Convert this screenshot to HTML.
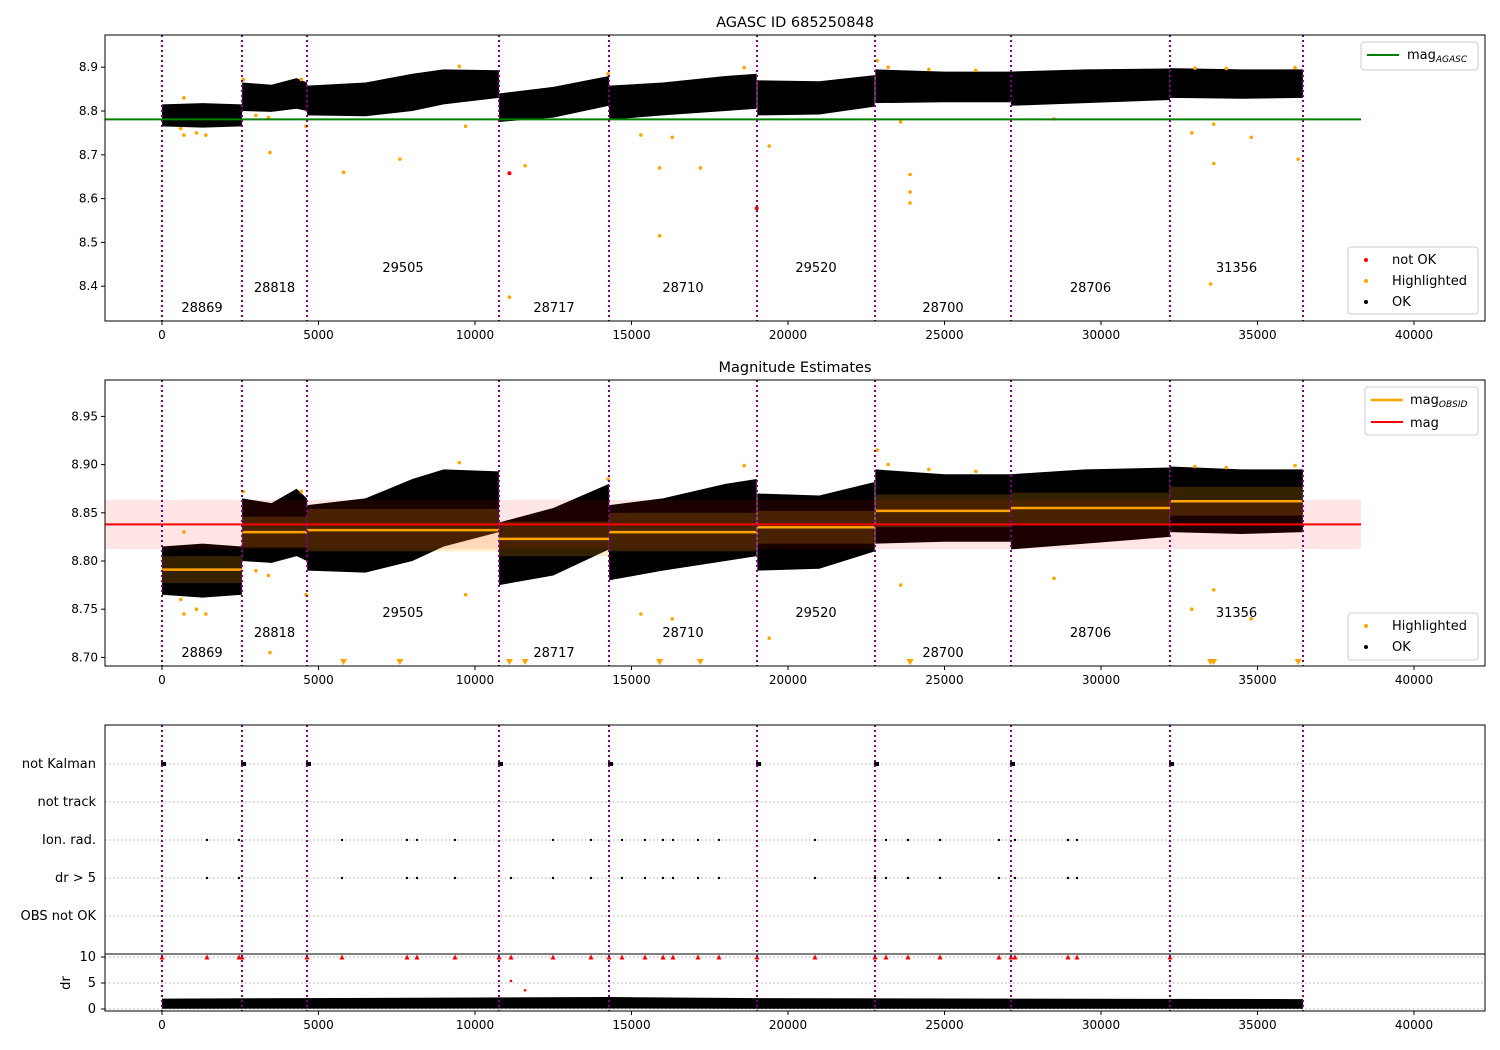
<!DOCTYPE html>
<html><head><meta charset="utf-8"><style>
html,body{margin:0;padding:0;background:#fff}
svg{display:block;font-family:"DejaVu Sans","Liberation Sans",sans-serif}
</style></head><body>
<svg id="c" width="1500" height="1050" viewBox="0 0 1500 1050" xmlns="http://www.w3.org/2000/svg"></svg>
<script>
// ---- data ----
const obsids = ["28869","28818","29505","28717","28710","29520","28700","28706","31356"];
const obsStart = [0,2556,4633,10767,14281,19010,22780,27125,32204,36454];
const obsMean = [8.791,8.830,8.832,8.823,8.830,8.835,8.852,8.855,8.862];
const obsStd = [0.014,0.016,0.022,0.018,0.020,0.017,0.017,0.016,0.015];
const magAgasc = 8.781;
const magAll = 8.838;
const magStd = 0.0255;
const knotT  = [0,1300,2550, 2560,3500,4300,4630, 4640,6500,8000,9000,10760, 10770,12500,14280, 14290,16000,18000,19000, 19020,21000,22770, 22790,25000,27120, 27130,29500,32200, 32210,34500,36450];
const knotLo = [8.765,8.762,8.765, 8.800,8.798,8.805,8.800, 8.790,8.788,8.800,8.815,8.830, 8.775,8.785,8.812, 8.780,8.790,8.800,8.805, 8.790,8.792,8.810, 8.818,8.820,8.820, 8.812,8.818,8.825, 8.830,8.828,8.830];
const knotHi = [8.815,8.818,8.815, 8.865,8.860,8.875,8.865, 8.858,8.865,8.885,8.895,8.893, 8.840,8.855,8.880, 8.858,8.865,8.880,8.885, 8.870,8.868,8.882, 8.895,8.890,8.890, 8.890,8.895,8.897, 8.898,8.895,8.895];
const hlT = [600,700,1400,700,1100,3000,3400,3450,4600,5800,7600,9700,11100,11600,15300,15900,15900,16300,17200,19400,23600,23900,23900,23900,28500,32900,33600,33600,34800,36300,33500, 2600,4450,9500,14250,18600,22850,23200,24500,33000,34000,36200,26000];
const hlM = [8.76,8.745,8.745,8.83,8.75,8.79,8.785,8.705,8.765,8.66,8.69,8.765,8.375,8.675,8.745,8.67,8.515,8.74,8.67,8.72,8.775,8.655,8.615,8.59,8.782,8.75,8.77,8.68,8.74,8.69,8.405, 8.872,8.872,8.902,8.885,8.899,8.915,8.90,8.895,8.898,8.897,8.899,8.893];
const badT = [11100,19000];
const badM = [8.658,8.578];
const flagCats = ["not Kalman","not track","Ion. rad.","dr > 5","OBS not OK"];
const ionT = [1438,2460,5751,7827,8147,9361,12492,13706,14696,15431,16006,16326,17125,17796,20863,22780,23131,23834,24856,26741,27252,28946,29233];
const dr5T = [1438,2460,5751,7827,8147,9361,11150,12492,13706,14696,15431,16006,16326,17125,17796,20863,22780,23131,23834,24856,26741,27252,28946,29233];
const drRedT = [11150,11600];
const drRedV = [5.4,3.6];
const drT  = [0,14281,19010,36454];
const drLo = [0.05,0.1,0.05,0.05];
const drHi = [2.0,2.3,2.1,1.9];
const xTicks = [0,5000,10000,15000,20000,25000,30000,35000,40000];
const y1Ticks = [8.4,8.5,8.6,8.7,8.8,8.9];
const y2Ticks = [8.70,8.75,8.80,8.85,8.90,8.95];
const drTicks = [0,5,10];

// ---- scales ----
const L=105,R=1485;
const X=t=>162+t*0.0313;
const Y1=m=>111-(m-8.8)*438;
const Y2=m=>561-(m-8.80)*964;
const YD=d=>1009-d*5.2;
const P1={top:35,bot:321}, P2={top:380,bot:666}, P3={top:725,bot:1011};
const catY=[764,802,840,878,916];

const svg=document.getElementById('c');
const NS="http://www.w3.org/2000/svg";
function el(tag,attrs,parent){const e=document.createElementNS(NS,tag);for(const k in attrs)e.setAttribute(k,attrs[k]);(parent||svg).appendChild(e);return e;}
function txt(s,x,y,anchor,size,parent){const e=el('text',{x:x,y:y,'text-anchor':anchor||'middle','font-size':size||13,fill:'#000'},parent);e.textContent=s;return e;}

const defs=el('defs',{});
[[P1,'c1'],[P2,'c2'],[P3,'c3']].forEach(([p,id])=>{const cp=el('clipPath',{id:id},defs);el('rect',{x:L,y:p.top,width:R-L,height:p.bot-p.top},cp);});

function envelope(Yf,g){
  for(let i=0;i<9;i++){
    const s=obsStart[i],e=obsStart[i+1];
    const idx=[];knotT.forEach((t,j)=>{if(t>=s-5&&t<=e+5)idx.push(j);});
    let pts=idx.map(j=>X(knotT[j])+','+Yf(knotHi[j]));
    pts=pts.concat(idx.slice().reverse().map(j=>X(knotT[j])+','+Yf(knotLo[j])));
    const p=el('polygon',{points:pts.join(' '),fill:'#000'},g);
    
    
  }
}
function vlines(p,g){
  obsStart.forEach(t=>{const l=el('line',{x1:X(t),x2:X(t),y1:p.top,y2:p.bot,stroke:'#800080','stroke-width':2,'stroke-dasharray':'2,3'},g);
    });
}
function xaxis(p,name){
  const g=el('g',{});
  xTicks.forEach(t=>{el('line',{x1:X(t),x2:X(t),y1:p.bot,y2:p.bot+4,stroke:'#000'},g);txt(String(t),X(t),p.bot+18,'middle',12,g);});
}
function frame(p,name){const r=el('rect',{x:L,y:p.top,width:R-L,height:p.bot-p.top,fill:'none',stroke:'#000','stroke-width':1});}
function obsLabels(levels){
  obsids.forEach((o,i)=>{const t=(obsStart[i]+obsStart[i+1])/2;const e=txt(o,X(t),levels[i%3],'middle',13);});
}
function legendBox(x,y,w,h,name){const r=el('rect',{x:x,y:y,width:w,height:h,rx:3,fill:'#fff','fill-opacity':0.8,stroke:'#ccc'});}

// ===== Panel 1 =====
txt('AGASC ID 685250848',795,27,'middle',14.5);
const g1=el('g',{'clip-path':'url(#c1)'});
envelope(Y1,g1);
hlT.forEach((t,i)=>{const c=el('circle',{cx:X(t),cy:Y1(hlM[i]),r:1.8,fill:'orange'},g1);});
badT.forEach((t,i)=>{const c=el('circle',{cx:X(t),cy:Y1(badM[i]),r:2,fill:'red'},g1);});
const gl=el('line',{x1:L,x2:1361,y1:Y1(magAgasc),y2:Y1(magAgasc),stroke:'green','stroke-width':2},g1);
vlines(P1,g1);
obsLabels([312,292,272]);
frame(P1,'panel-agasc-frame');
xaxis(P1,'x-axis-panel1');
y1Ticks.forEach(v=>{el('line',{x1:L-4,x2:L,y1:Y1(v),y2:Y1(v),stroke:'#000'});txt(v.toFixed(1),L-7,Y1(v)+4,'end',12);});
legendBox(1361,42,117,28,'legend-agasc');
el('line',{x1:1367,x2:1399,y1:55,y2:55,stroke:'green','stroke-width':2});
const t1=txt('mag',1407,59,'start',13);const ts=el('tspan',{'font-size':9,'font-style':'italic',dy:3},t1);ts.textContent='AGASC';
legendBox(1348,247,130,67,'legend-status-panel1');
el('circle',{cx:1366,cy:260,r:2,fill:'red'});txt('not OK',1392,264,'start',13);
el('circle',{cx:1366,cy:281,r:2,fill:'orange'});txt('Highlighted',1392,285,'start',13);
el('circle',{cx:1366,cy:302,r:2,fill:'#000'});txt('OK',1392,306,'start',13);

// ===== Panel 2 =====
txt('Magnitude Estimates',795,372,'middle',14.5);
const g2=el('g',{'clip-path':'url(#c2)'});
envelope(Y2,g2);
const pb=el('rect',{x:L,y:Y2(magAll+magStd),width:1361-L,height:Y2(magAll-magStd)-Y2(magAll+magStd),fill:'red','fill-opacity':0.1},g2);
obsids.forEach((o,i)=>{
  const x0=X(obsStart[i]),x1=X(obsStart[i+1]);
  const b=el('rect',{x:x0,y:Y2(obsMean[i]+obsStd[i]),width:x1-x0,height:Y2(obsMean[i]-obsStd[i])-Y2(obsMean[i]+obsStd[i]),fill:'orange','fill-opacity':0.2},g2);
  
});
hlT.forEach((t,i)=>{
  const m=hlM[i];
  if(m<8.692){const x=X(t),y=662;const p=el('polygon',{points:`${x-3.5},${y-3} ${x+3.5},${y-3} ${x},${y+3}`,fill:'orange'},g2);}
  else{const c=el('circle',{cx:X(t),cy:Y2(m),r:1.8,fill:'orange'},g2);}
});
const rl=el('line',{x1:L,x2:1361,y1:Y2(magAll),y2:Y2(magAll),stroke:'red','stroke-width':2},g2);
obsids.forEach((o,i)=>{const l=el('line',{x1:X(obsStart[i]),x2:X(obsStart[i+1]),y1:Y2(obsMean[i]),y2:Y2(obsMean[i]),stroke:'orange','stroke-width':2.5},g2);});
vlines(P2,g2);
obsLabels([657,637,617]);
frame(P2,'panel-estimates-frame');
xaxis(P2,'x-axis-panel2');
y2Ticks.forEach(v=>{el('line',{x1:L-4,x2:L,y1:Y2(v),y2:Y2(v),stroke:'#000'});txt(v.toFixed(2),L-7,Y2(v)+4,'end',12);});
legendBox(1365,387,113,48,'legend-mag');
el('line',{x1:1371,x2:1403,y1:400,y2:400,stroke:'orange','stroke-width':2.5});
const t2=txt('mag',1410,404,'start',13);const ts2=el('tspan',{'font-size':9,'font-style':'italic',dy:3},t2);ts2.textContent='OBSID';
el('line',{x1:1371,x2:1403,y1:422,y2:422,stroke:'red','stroke-width':2});txt('mag',1410,427,'start',13);
legendBox(1348,613,130,47,'legend-status-panel2');
el('circle',{cx:1366,cy:626,r:2,fill:'orange'});txt('Highlighted',1392,630,'start',13);
el('circle',{cx:1366,cy:647,r:2,fill:'#000'});txt('OK',1392,651,'start',13);

// ===== Panel 3 =====
const g3=el('g',{'clip-path':'url(#c3)'});
catY.forEach(y=>el('line',{x1:L,x2:R,y1:y,y2:y,stroke:'#aaa','stroke-dasharray':'1.5,2.5'},g3));
drTicks.forEach(d=>el('line',{x1:L,x2:R,y1:YD(d),y2:YD(d),stroke:'#aaa','stroke-dasharray':'1.5,2.5'},g3));
{
  let pts=drT.map((t,i)=>X(t)+','+YD(drHi[i])).concat(drT.slice().reverse().map((t,k)=>X(t)+','+YD(drLo[drT.length-1-k])));
  const p=el('polygon',{points:pts.join(' '),fill:'#000'},g3);
}
obsStart.slice(0,9).forEach(t=>{const r=el('rect',{x:X(t)-1,y:catY[0]-2,width:5,height:4,fill:'#000'},g3);});
ionT.forEach(t=>{const c=el('circle',{cx:X(t),cy:catY[2],r:1.2,fill:'#000'},g3);});
dr5T.forEach(t=>{const c=el('circle',{cx:X(t),cy:catY[3],r:1.2,fill:'#000'},g3);});
dr5T.concat(obsStart.slice(0,9)).forEach(t=>{const x=X(t),y=YD(10);const p=el('polygon',{points:`${x-2.5},${y+2.5} ${x+2.5},${y+2.5} ${x},${y-2.5}`,fill:'red'},g3);});
drRedT.forEach((t,i)=>{const c=el('circle',{cx:X(t),cy:YD(drRedV[i]),r:1.3,fill:'red'},g3);});
vlines(P3,g3);
el('line',{x1:L,x2:R,y1:954,y2:954,stroke:'#000','stroke-width':1});
frame(P3,'panel-flags-frame');
xaxis(P3,'x-axis-panel3');
flagCats.forEach((c,i)=>{const e=txt(c,96,catY[i]+4,'end',13);});
drTicks.forEach(d=>{el('line',{x1:L-4,x2:L,y1:YD(d),y2:YD(d),stroke:'#000'});txt(String(d),96,YD(d)+4,'end',13);});
const yl=txt('dr',70,983,'middle',13);yl.setAttribute('transform','rotate(-90 70 983)');
</script>
</body></html>
